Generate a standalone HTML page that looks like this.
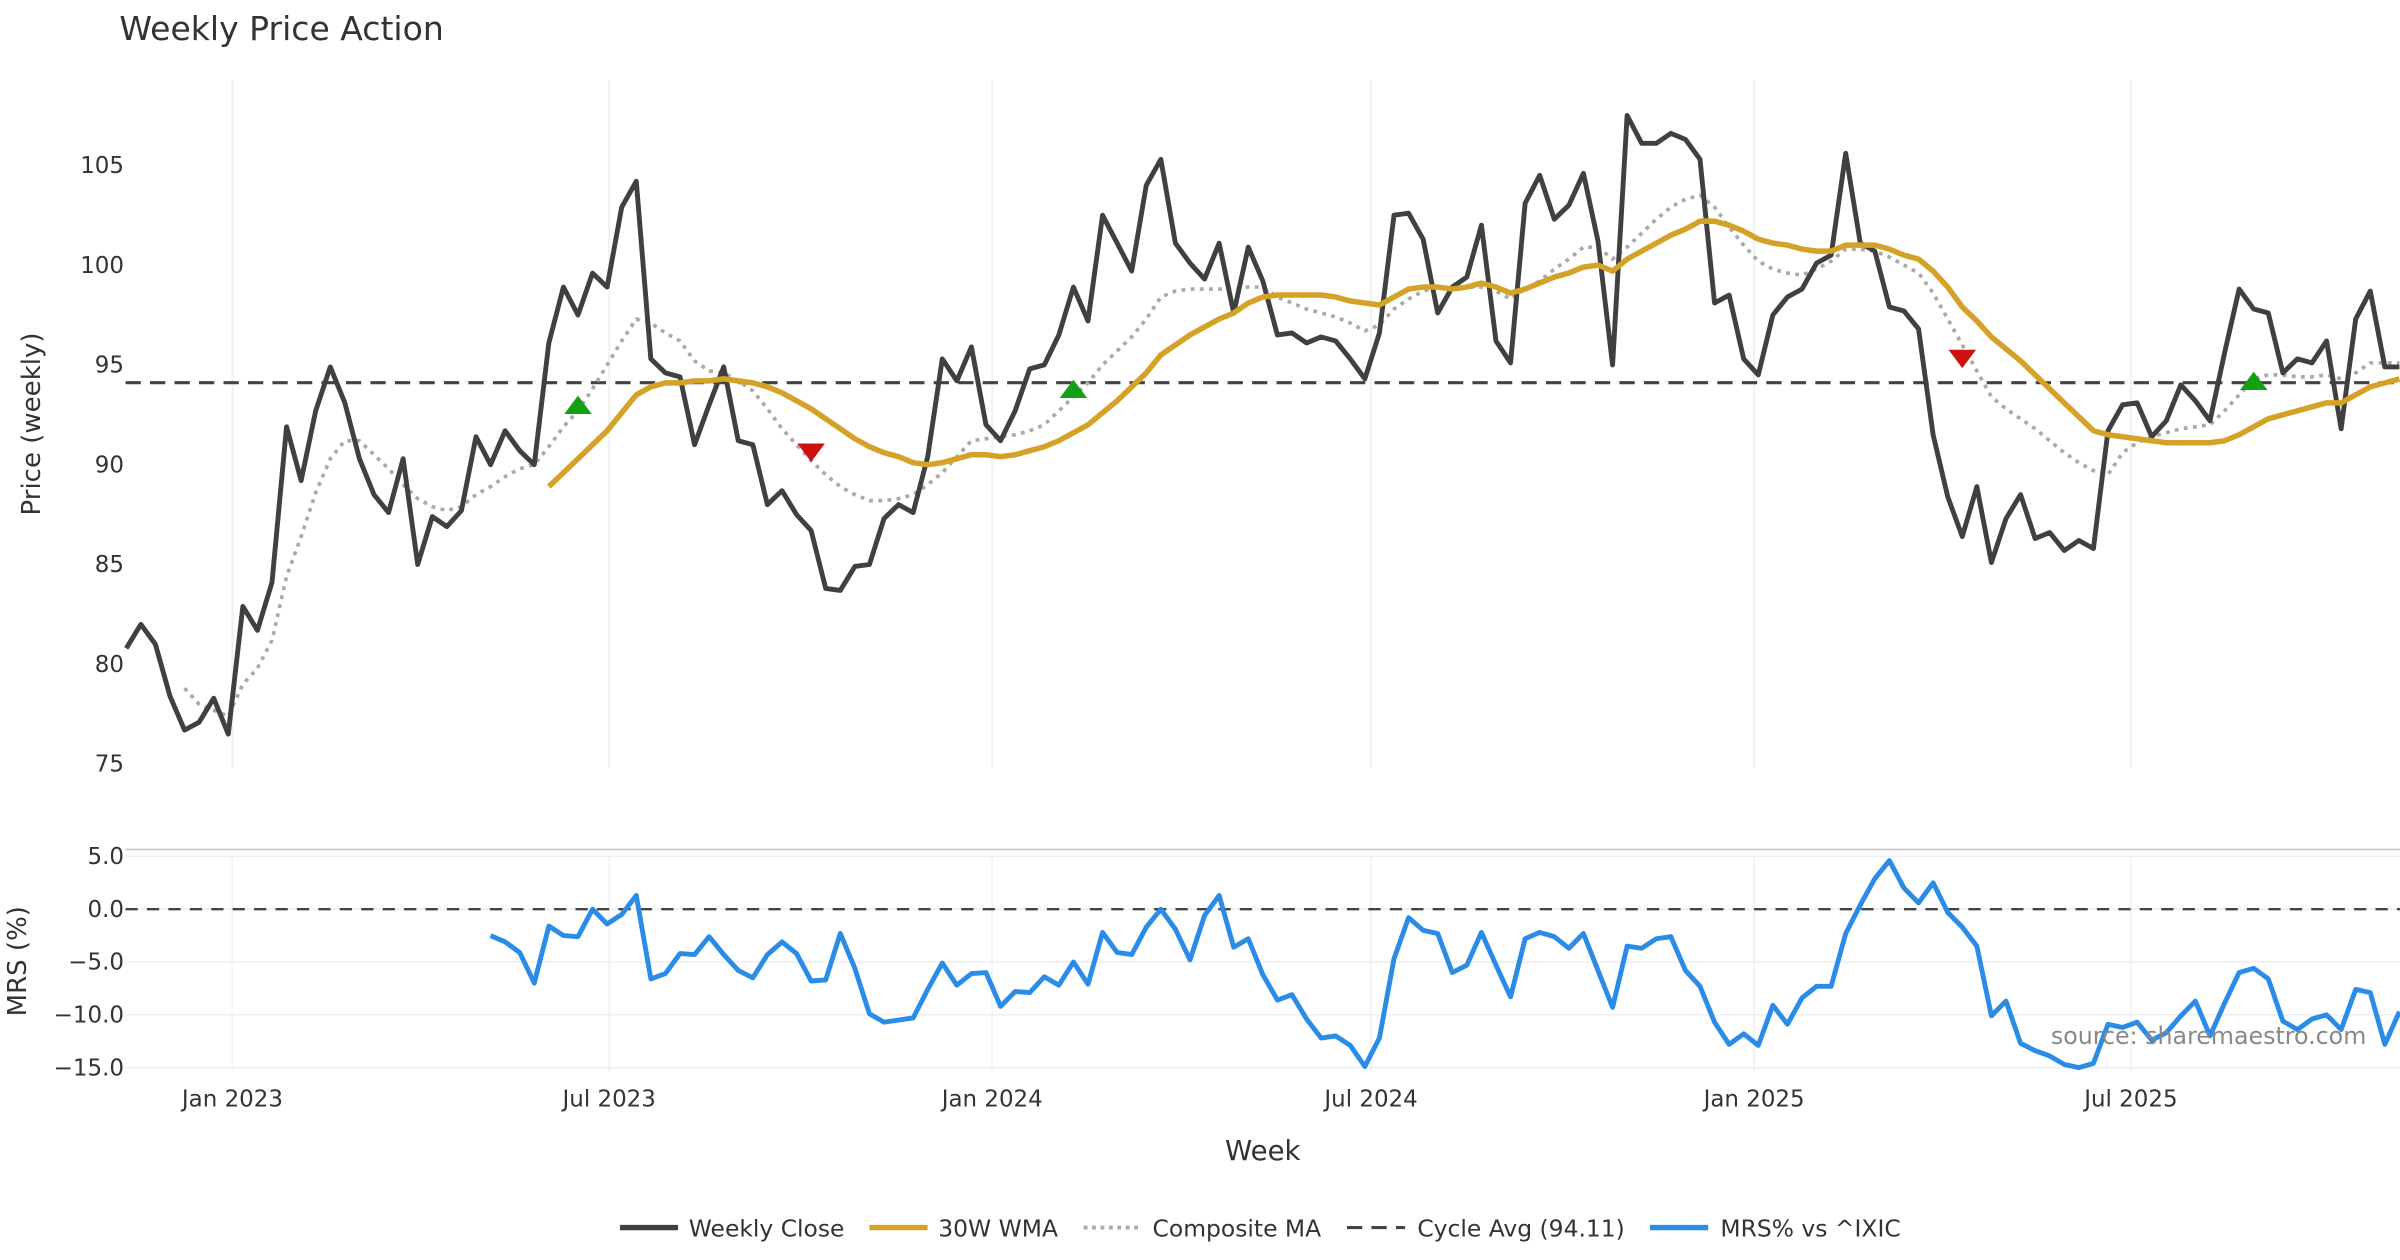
<!DOCTYPE html>
<html><head><meta charset="utf-8"><style>
html,body{margin:0;padding:0;background:#fff;}
svg{display:block;font-family:"DejaVu Sans","Liberation Sans",sans-serif;}
</style></head><body>
<svg id="chart" width="2400" height="1260" viewBox="0 0 1568 823.2" xmlns="http://www.w3.org/2000/svg">
<rect width="1568" height="823.2" fill="#fff"/>
<text x="78" y="26" font-size="21.6" fill="#333">Weekly Price Action</text>
<g id="grid"></g>
<g id="series"></g>
<g id="axes"></g>
<text transform="translate(26,277) rotate(-90)" text-anchor="middle" font-size="17" fill="#333">Price (weekly)</text>
<text transform="translate(17,628) rotate(-90)" text-anchor="middle" font-size="17" fill="#333">MRS (%)</text>
<text x="825" y="758" text-anchor="middle" font-size="18" fill="#333">Week</text>
<text x="1546" y="682" text-anchor="end" font-size="15.5" fill="#888">source: sharemaestro.com</text>
<g font-size="15.3" fill="#333">
<g><line x1="405" y1="802" x2="443" y2="802" stroke="#404040" stroke-width="3.5"/><text x="450" y="808">Weekly Close</text></g>
<g><line x1="568" y1="802" x2="606" y2="802" stroke="#d4a227" stroke-width="3.5"/><text x="613" y="808">30W WMA</text></g>
<g><line x1="708" y1="802" x2="746" y2="802" stroke="#aaa" stroke-width="2.5" stroke-dasharray="2.5,3"/><text x="753" y="808">Composite MA</text></g>
<g><line x1="880" y1="802" x2="918" y2="802" stroke="#444" stroke-width="2" stroke-dasharray="10,6"/><text x="926" y="808">Cycle Avg (94.11)</text></g>
<g><line x1="1078" y1="802" x2="1116" y2="802" stroke="#2b8ce8" stroke-width="3.5"/><text x="1124" y="808">MRS% vs ^IXIC</text></g>
</g>
</svg>
<script>
const closeVals=[80.8,82.0,81.0,78.4,76.7,77.1,78.3,76.5,82.9,81.7,84.1,91.9,89.2,92.7,94.9,93.1,90.3,88.5,87.6,90.3,85.0,87.4,86.9,87.7,91.4,90.0,91.7,90.7,90.0,96.1,98.9,97.5,99.6,98.9,102.9,104.2,95.3,94.6,94.4,91.0,93.0,94.9,91.2,91.0,88.0,88.7,87.5,86.7,83.8,83.7,84.9,85.0,87.3,88.0,87.6,90.4,95.3,94.2,95.9,92.0,91.2,92.7,94.8,95.0,96.5,98.9,97.2,102.5,101.1,99.7,104.0,105.3,101.1,100.1,99.3,101.1,97.6,100.9,99.2,96.5,96.6,96.1,96.4,96.2,95.3,94.3,96.6,102.5,102.6,101.3,97.6,98.9,99.4,102.0,96.2,95.1,103.1,104.5,102.3,103.0,104.6,101.2,95.0,107.5,106.1,106.1,106.6,106.3,105.3,98.1,98.5,95.3,94.5,97.5,98.4,98.8,100.1,100.5,105.6,101.1,100.7,97.9,97.7,96.8,91.5,88.4,86.4,88.9,85.1,87.3,88.5,86.3,86.6,85.7,86.2,85.8,91.7,93.0,93.1,91.4,92.2,94.0,93.2,92.2,95.6,98.8,97.8,97.6,94.6,95.3,95.1,96.2,91.8,97.3,98.7,94.9,94.9];
const wmaStart=29;
const wmaVals=[88.9,89.6,90.3,91.0,91.7,92.6,93.5,93.9,94.1,94.1,94.2,94.2,94.3,94.2,94.1,93.9,93.6,93.2,92.8,92.3,91.8,91.3,90.9,90.6,90.4,90.1,90.0,90.1,90.3,90.5,90.5,90.4,90.5,90.7,90.9,91.2,91.6,92.0,92.6,93.2,93.9,94.6,95.5,96.0,96.5,96.9,97.3,97.6,98.1,98.4,98.5,98.5,98.5,98.5,98.4,98.2,98.1,98.0,98.4,98.8,98.9,98.9,98.8,98.9,99.1,98.9,98.6,98.8,99.1,99.4,99.6,99.9,100.0,99.7,100.3,100.7,101.1,101.5,101.8,102.2,102.2,102.0,101.7,101.3,101.1,101.0,100.8,100.7,100.7,101.0,101.0,101.0,100.8,100.5,100.3,99.7,98.9,97.9,97.2,96.4,95.8,95.2,94.5,93.8,93.1,92.4,91.7,91.5,91.4,91.3,91.2,91.1,91.1,91.1,91.1,91.2,91.5,91.9,92.3,92.5,92.7,92.9,93.1,93.1,93.5,93.9,94.1,94.3];
const compStart=4;
const compVals=[78.8,78.0,77.7,77.4,79.0,79.8,81.2,84.4,86.4,88.6,90.3,91.2,91.2,90.5,89.8,89.0,88.3,87.9,87.7,87.9,88.5,88.9,89.4,89.8,90.0,90.9,91.9,92.7,93.8,95.0,96.2,97.3,97.1,96.6,96.2,95.2,94.7,94.6,94.2,93.7,92.8,91.8,91.0,90.2,89.5,88.9,88.5,88.2,88.2,88.3,88.5,89.0,89.6,90.4,91.2,91.3,91.4,91.5,91.7,92.0,92.7,93.4,94.1,95.0,95.7,96.4,97.3,98.4,98.7,98.8,98.8,98.8,98.8,98.9,98.9,98.4,98.1,97.8,97.6,97.4,97.1,96.7,97.0,97.8,98.3,98.7,98.9,98.9,98.9,98.9,98.7,98.3,98.8,99.2,99.8,100.3,100.9,100.9,100.3,100.9,101.6,102.3,102.9,103.3,103.5,102.9,101.9,101.0,100.2,99.8,99.6,99.5,99.8,100.2,100.8,100.8,100.7,100.4,100.0,99.6,98.6,97.3,96.0,94.7,93.4,92.8,92.3,91.8,91.2,90.6,90.1,89.7,89.5,90.6,91.1,91.4,91.6,91.8,91.9,92.0,92.7,93.5,94.3,94.5,94.5,94.4,94.4,94.5,94.3,94.6,95.1,95.1,95.1];
const mrsStart=25;
const mrsVals=[-2.5,-3.1,-4.1,-7.0,-1.6,-2.5,-2.6,0.0,-1.4,-0.5,1.3,-6.6,-6.1,-4.2,-4.3,-2.6,-4.3,-5.8,-6.5,-4.3,-3.1,-4.2,-6.8,-6.7,-2.3,-5.6,-9.9,-10.7,-10.5,-10.3,-7.6,-5.1,-7.2,-6.1,-6.0,-9.2,-7.8,-7.9,-6.4,-7.2,-5.0,-7.1,-2.2,-4.1,-4.3,-1.7,0.0,-1.9,-4.8,-0.6,1.3,-3.6,-2.8,-6.2,-8.6,-8.1,-10.4,-12.2,-12.0,-12.9,-14.9,-12.2,-4.7,-0.8,-2.0,-2.3,-6.0,-5.3,-2.2,-5.3,-8.3,-2.8,-2.2,-2.6,-3.7,-2.3,-5.8,-9.3,-3.5,-3.7,-2.8,-2.6,-5.8,-7.3,-10.7,-12.8,-11.8,-12.9,-9.1,-10.9,-8.4,-7.3,-7.3,-2.3,0.4,2.9,4.6,2.0,0.6,2.5,-0.3,-1.7,-3.5,-10.1,-8.7,-12.7,-13.4,-13.9,-14.7,-15.0,-14.6,-10.9,-11.2,-10.7,-12.4,-11.7,-10.1,-8.7,-12.0,-8.9,-6.0,-5.6,-6.6,-10.6,-11.4,-10.4,-10.0,-11.4,-7.6,-7.9,-12.8,-9.7];
const cycleAvg=94.11;
const buyIdx=[31,65,146];
const buyVals=[93.0,93.8,94.2];
const sellIdx=[47,126];
const sellVals=[90.6,95.3];
const xTickLabels=["Jan 2023","Jul 2023","Jan 2024","Jul 2024","Jan 2025","Jul 2025"];
const xTickDates=["2023-01-01","2023-07-01","2024-01-01","2024-07-01","2025-01-01","2025-07-01"];
const priceTicks=[75,80,85,90,95,100,105];
const mrsTicks=[5,0,-5,-10,-15];
const startDate="2022-11-11";

const NS="http://www.w3.org/2000/svg";
const X0=82.5, DX=9.52;
function xs(i){return X0+i*DX;}
function yp(v){return 108+(105-v)*13.04;}
function ym(v){return 594-v*6.9;}
function dateIdx(d){return (Date.parse(d)-Date.parse(startDate))/(7*864e5);}
function mk(tag,attrs,parent){const e=document.createElementNS(NS,tag);for(const k in attrs)e.setAttribute(k,attrs[k]);parent.appendChild(e);return e;}
const grid=document.getElementById('grid'),ser=document.getElementById('series'),axes=document.getElementById('axes');

xTickDates.forEach((d,k)=>{
  const x=xs(dateIdx(d));
  const g1=mk('line',{x1:x,y1:52,x2:x,y2:502,stroke:'#eef0f3','stroke-width':1.3},grid);
  
  
  const g2=mk('line',{x1:x,y1:560,x2:x,y2:700,stroke:'#f3f4f6','stroke-width':1.3},grid);
  
  
  const t=mk('text',{x:x,y:723,'text-anchor':'middle','font-size':15,fill:'#333'},axes);
  t.textContent=xTickLabels[k];
  
  
});
priceTicks.forEach(v=>{
  const t=mk('text',{x:81,y:yp(v)+5,'text-anchor':'end','font-size':15,fill:'#333'},axes);
  t.textContent=String(v);
  
  
});
mrsTicks.forEach(v=>{
  const l=mk('line',{x1:82,y1:ym(v),x2:1568,y2:ym(v),stroke:'#eceef1','stroke-width':1},grid);
  
  
  const t=mk('text',{x:81,y:ym(v)+5,'text-anchor':'end','font-size':15,fill:'#333'},axes);
  t.textContent=(v<0?'\u2212'+Math.abs(v).toFixed(1):v.toFixed(1));
  
  
});
const sep=mk('line',{x1:82,y1:555,x2:1568,y2:555,stroke:'#c8c8c8','stroke-width':1.2},grid);



function path(vals,start,yf,attrs,name){
  let d='';vals.forEach((v,k)=>{d+=(k?'L':'M')+xs(start+k).toFixed(2)+','+yf(v).toFixed(2);});
  const p=mk('path',Object.assign({d:d,fill:'none','stroke-linejoin':'round'},attrs),ser);
  
  
  return p;
}
const cyc=mk('line',{x1:82,y1:yp(cycleAvg),x2:1568,y2:yp(cycleAvg),stroke:'#444','stroke-width':2,'stroke-dasharray':'10,6'},ser);


const zl=mk('line',{x1:82,y1:ym(0),x2:1568,y2:ym(0),stroke:'#444','stroke-width':1.6,'stroke-dasharray':'8,6'},ser);


path(compVals,compStart,yp,{stroke:'#aaa','stroke-width':2.4,'stroke-dasharray':'2.5,3.5'},'composite-ma-line');
path(closeVals,0,yp,{stroke:'#404040','stroke-width':3.2},'weekly-close-line');
path(wmaVals,wmaStart,yp,{stroke:'#d4a227','stroke-width':3.6},'wma-30w-line');
path(mrsVals,mrsStart,ym,{stroke:'#2b8ce8','stroke-width':3.2},'mrs-line');
buyIdx.forEach((i,k)=>{
  const x=xs(i),y=yp(buyVals[k]);
  const p=mk('polygon',{points:`${x-9},${y+6} ${x+9},${y+6} ${x},${y-6}`,fill:'#14a014'},ser);
  
  
});
sellIdx.forEach((i,k)=>{
  const x=xs(i),y=yp(sellVals[k]);
  const p=mk('polygon',{points:`${x-9},${y-6} ${x+9},${y-6} ${x},${y+6}`,fill:'#cc1111'},ser);
  
  
});
</script>
</body></html>
